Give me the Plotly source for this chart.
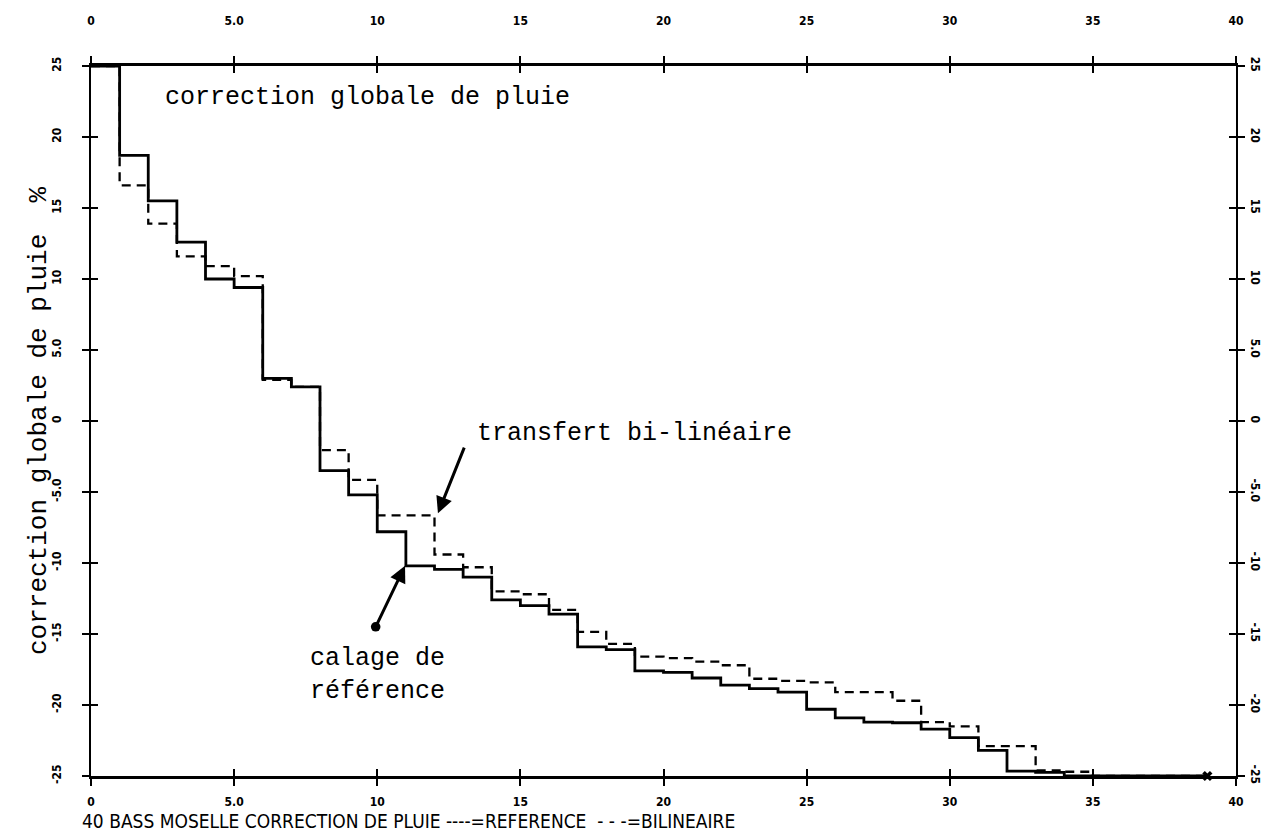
import plotly.graph_objects as go

# ---- data (step values on unit intervals [i, i+1]) ----
x_edges = list(range(0, 40))
reference = [25, 18.7, 15.5, 12.6, 10.0, 9.4, 3.0, 2.4, -3.5, -5.2,
             -7.8, -10.2, -10.45, -11.0, -12.6, -13.0, -13.6, -15.9, -16.1, -17.6,
             -17.7, -18.1, -18.6, -18.85, -19.1, -20.3, -20.9, -21.2, -21.25, -21.7,
             -22.3, -23.2, -24.65, -24.75, -25, -25, -25, -25, -25, -25]
bilineaire = [25, 16.6, 13.9, 11.6, 10.9, 10.2, 2.9, 2.4, -2.05, -4.15,
              -6.65, -6.65, -9.4, -10.3, -12.0, -12.2, -13.3, -14.85, -15.7, -16.6,
              -16.7, -16.95, -17.2, -18.15, -18.3, -18.4, -19.1, -19.1, -19.7, -21.2,
              -21.5, -22.9, -22.9, -24.6, -24.7, -25, -25, -25, -25, -25]
end_marker_x = [39]
end_marker_y = [-25]

x_tickvals = [0, 5, 10, 15, 20, 25, 30, 35, 40]
x_ticktext = ["0", "5.0", "10", "15", "20", "25", "30", "35", "40"]
y_tickvals = [25, 20, 15, 10, 5, 0, -5, -10, -15, -20, -25]
y_ticktext = ["25", "20", "15", "10", "5.0", "0", "-5.0", "-10", "-15", "-20", "-25"]

# annotation anchor points (data units)
arrow_bilin = dict(head=(12.12, -6.5), tail=(13.06, -1.77))
arrow_ref = dict(head=(10.97, -10.2), tail=(9.92, -14.6))

MONO = "Liberation Mono, Courier New, monospace"
TICKFONT = dict(family="DejaVu Sans Condensed, Liberation Sans Narrow, Arial Narrow, sans-serif",
                size=12, color="black", weight="bold")

fig = go.Figure()
fig.add_trace(go.Scatter(x=x_edges, y=bilineaire, mode="lines", line_shape="hv",
                         line=dict(color="black", width=2.3, dash="9px,6px"),
                         showlegend=False, hoverinfo="skip"))
fig.add_trace(go.Scatter(x=x_edges, y=reference, mode="lines", line_shape="hv",
                         line=dict(color="black", width=2.8),
                         showlegend=False, hoverinfo="skip"))
fig.add_trace(go.Scatter(x=end_marker_x, y=end_marker_y, mode="markers",
                         marker=dict(symbol="x", size=9, color="black"),
                         cliponaxis=False, showlegend=False, hoverinfo="skip"))
# helper traces so overlay axes are drawn
fig.add_trace(go.Scatter(x=[None], y=[None], xaxis="x2", yaxis="y2", showlegend=False))
fig.add_trace(go.Scatter(x=[None], y=[None], xaxis="x3", yaxis="y3", showlegend=False))

common_x = dict(range=[0, 40], tickvals=x_tickvals, ticktext=x_ticktext, showgrid=False,
                zeroline=False, tickfont=TICKFONT, tickcolor="black", ticklen=7, tickwidth=1.5,
                automargin=False)
common_y = dict(range=[-25, 25], tickvals=y_tickvals, ticktext=y_ticktext, showgrid=False,
                zeroline=False, tickfont=TICKFONT, tickcolor="black", ticklen=7, tickwidth=1.5,
                automargin=False)

fig.update_layout(
    width=1269, height=839,
    margin=dict(l=83, r=41, t=58, b=71, autoexpand=False),
    paper_bgcolor="white", plot_bgcolor="white",
    showlegend=False,
    xaxis=dict(**common_x, side="bottom", anchor="y", ticks="outside", showline=True,
               linecolor="black", linewidth=3, ticklabelstandoff=6),
    xaxis2=dict(**common_x, side="top", anchor="y", overlaying="x", ticks="outside",
                showline=True, linecolor="black", linewidth=2.5, ticklabelstandoff=26),
    xaxis3=dict(**common_x, side="bottom", anchor="y", overlaying="x", ticks="inside",
                mirror="allticks", showline=False, showticklabels=False),
    yaxis=dict(**common_y, side="left", anchor="x", ticks="outside", showline=True,
               linecolor="black", linewidth=2, tickangle=-90, ticklabelstandoff=16),
    yaxis2=dict(**common_y, side="right", anchor="x", overlaying="y", ticks="outside",
                showline=True, linecolor="black", linewidth=2, tickangle=90,
                ticklabelstandoff=1),
    yaxis3=dict(**common_y, side="left", anchor="x", overlaying="y", ticks="inside",
                mirror="allticks", showline=False, showticklabels=False),
)

annotations = [
    dict(text="correction globale de pluie", x=2.5, y=22.8, xref="x", yref="y",
         xanchor="left", yanchor="middle", showarrow=False,
         font=dict(family=MONO, size=25, color="black")),
    dict(text="transfert bi-linéaire", x=13.4, y=-0.9, xref="x", yref="y",
         xanchor="left", yanchor="middle", showarrow=False,
         font=dict(family=MONO, size=25, color="black")),
    dict(text="calage de<br>référence", x=7.58, y=-17.9, xref="x", yref="y",
         xanchor="left", yanchor="middle", align="left", showarrow=False,
         font=dict(family=MONO, size=25, color="black")),
    dict(text="correction globale de pluie  %", x=0, y=0.5, xref="paper", yref="paper",
         xanchor="center", yanchor="middle", xshift=-52, textangle=-90, showarrow=False,
         font=dict(family=MONO, size=26, color="black")),
    dict(text="40 BASS MOSELLE CORRECTION DE PLUIE ----=REFERENCE &nbsp;- - -=BILINEAIRE",
         x=0, y=0, xref="paper", yref="paper", xanchor="left", yanchor="middle",
         xshift=-11, yshift=-45, showarrow=False,
         font=dict(family="DejaVu Sans Condensed, Liberation Sans Narrow, sans-serif",
                   size=19, color="black")),
    dict(text="", x=arrow_bilin["head"][0], y=arrow_bilin["head"][1], xref="x", yref="y",
         ax=arrow_bilin["tail"][0], ay=arrow_bilin["tail"][1], axref="x", ayref="y",
         showarrow=True, arrowhead=2, arrowsize=1.1, arrowwidth=3, arrowcolor="black"),
    dict(text="", x=arrow_ref["head"][0], y=arrow_ref["head"][1], xref="x", yref="y",
         ax=arrow_ref["tail"][0], ay=arrow_ref["tail"][1], axref="x", ayref="y",
         showarrow=True, arrowhead=2, arrowsize=1.1, arrowwidth=3, arrowcolor="black",
         arrowside="end+start", startarrowhead=6, startarrowsize=0.8),
]
fig.update_layout(annotations=annotations)

fig.write_html("out.html")
